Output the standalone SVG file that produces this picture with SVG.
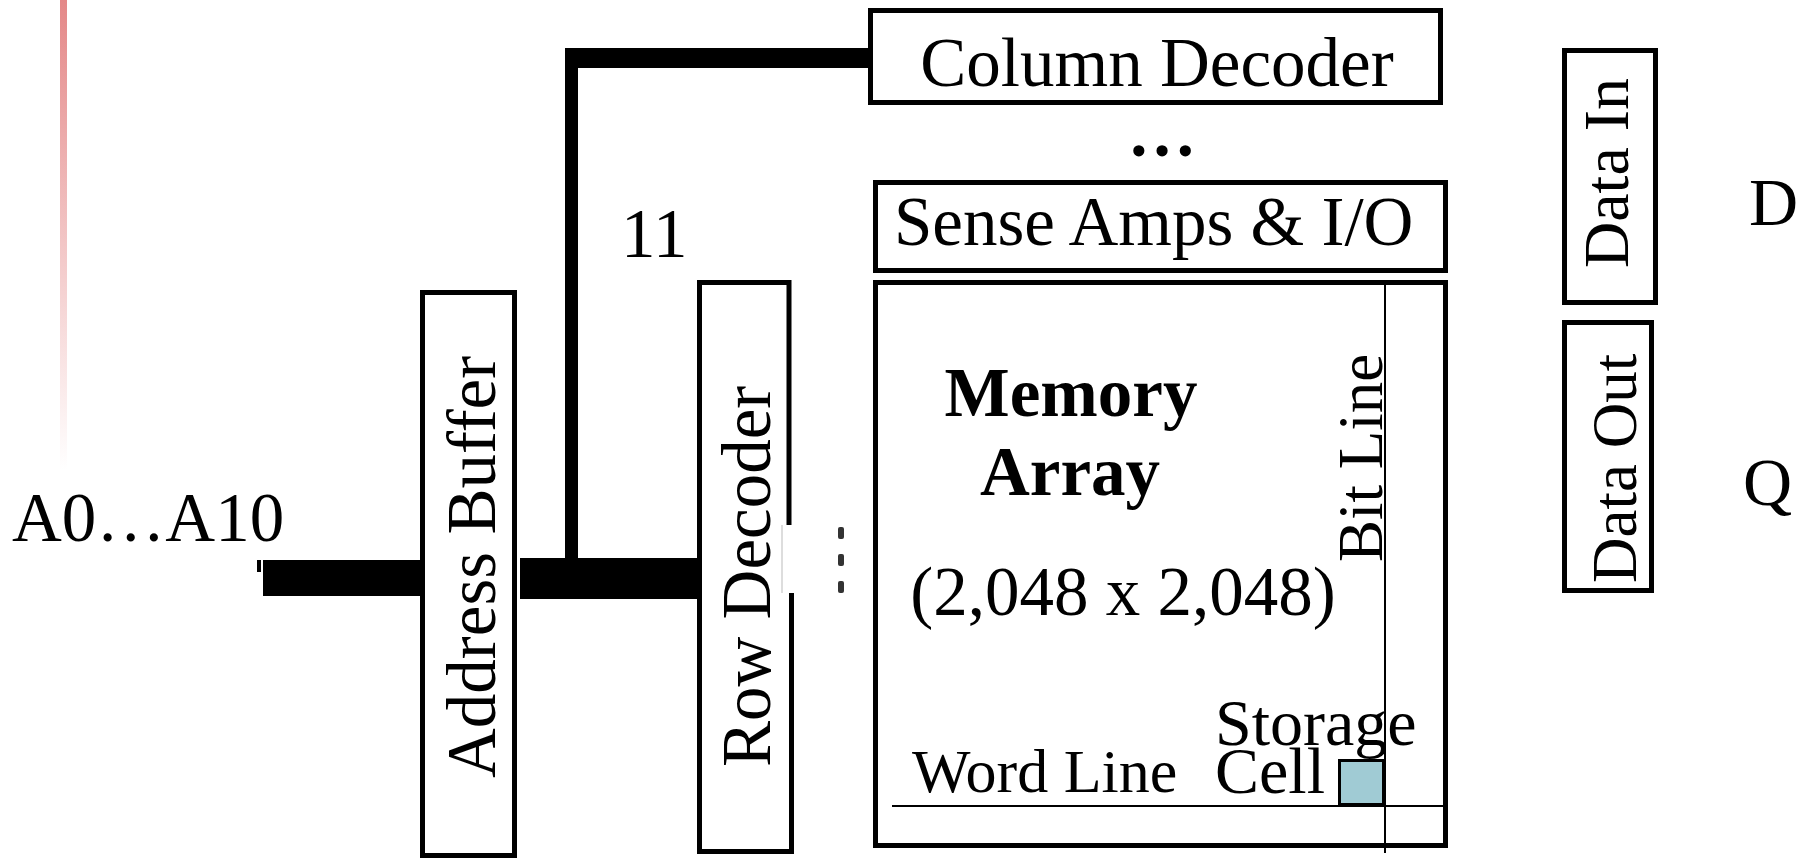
<svg xmlns="http://www.w3.org/2000/svg" width="1804" height="861" viewBox="0 0 1804 861">
<defs>
<linearGradient id="fade" x1="0" y1="0" x2="0" y2="1">
<stop offset="0" stop-color="#e48888"/>
<stop offset="1" stop-color="#e48888" stop-opacity="0"/>
</linearGradient>
<style>
.t{font-family:"Liberation Serif","Times New Roman",serif;font-size:69px;fill:#000}
.b{font-weight:bold}
.box{fill:#fff;stroke:#000;stroke-width:5}
.wire{fill:#000}
</style>
</defs>
<rect width="1804" height="861" fill="#fff"/>
<rect x="60" y="0" width="7" height="470" fill="url(#fade)"/>
<text class="t" x="12" y="541">A0…A10</text>
<text class="t" x="621" y="257">11</text>

<g id="connectors">
<rect class="wire" x="263" y="560" width="160" height="36"/>
<rect class="wire" x="257" y="560" width="4" height="12"/>
<rect class="wire" x="520" y="558" width="179" height="41"/>
<rect class="wire" x="565" y="48" width="13" height="512"/>
<rect class="wire" x="565" y="48" width="307" height="20"/>
</g>

<g id="address-buffer">
<rect class="box" x="422.5" y="292.5" width="92" height="563"/>
<text class="t" transform="translate(495,778) rotate(-90)">Address Buffer</text>
</g>

<g id="row-decoder">
<path d="M789,525 V282.5 H699.5 V851.5 H791.5 V593" fill="none" stroke="#000" stroke-width="5"/>
<line x1="782" y1="525" x2="782" y2="593" stroke="#bbb" stroke-width="1"/>
<text class="t" transform="translate(770,767) rotate(-90)">Row Decoder</text>
<g fill="#333">
<rect x="838" y="527" width="6" height="12" rx="2"/>
<rect x="838" y="554" width="6" height="12" rx="2"/>
<rect x="838" y="581" width="6" height="12" rx="2"/>
</g>
</g>

<g id="column-decoder">
<rect class="box" x="870.5" y="10.5" width="570" height="92"/>
<text class="t" x="1157" y="86" text-anchor="middle">Column Decoder</text>
</g>
<text class="t b" x="1162" y="156" text-anchor="middle">…</text>

<g id="sense-amps">
<rect class="box" x="875.5" y="182.5" width="570" height="88"/>
<text class="t" x="894" y="245">Sense Amps &amp; I/O</text>
</g>

<g id="memory-array">
<rect class="box" x="875.5" y="282.5" width="570" height="563"/>
<line x1="1385" y1="281" x2="1385" y2="853" stroke="#000" stroke-width="2"/>
<line x1="892" y1="806" x2="1445" y2="806" stroke="#000" stroke-width="2"/>
<text class="t b" x="1071" y="416" text-anchor="middle">Memory</text>
<text class="t b" x="1070" y="495" text-anchor="middle">Array</text>
<text class="t" x="1123" y="615" text-anchor="middle">(2,048 x 2,048)</text>
<text class="t" transform="translate(1382,562) rotate(-90)" style="font-size:63px">Bit Line</text>
<text class="t" x="912" y="792" style="font-size:62px">Word Line</text>
<text class="t" x="1215" y="745" style="font-size:66px">Storage</text>
<text class="t" x="1215" y="793" style="font-size:66px">Cell</text>
</g>

<g id="storage-cell">
<rect x="1339.5" y="760.5" width="44" height="44" fill="#a0cbd4" stroke="#000" stroke-width="3"/>
</g>

<g id="data-in">
<rect class="box" x="1564.5" y="50.5" width="91" height="252"/>
<text class="t" transform="translate(1628,268) rotate(-90)" style="font-size:64px">Data In</text>
</g>
<g id="data-out">
<rect class="box" x="1564.5" y="322.5" width="87" height="268"/>
<text class="t" transform="translate(1636,583) rotate(-90)" style="font-size:63px">Data Out</text>
</g>
<text class="t" x="1749" y="225" style="font-size:68px">D</text>
<text class="t" x="1743" y="505" style="font-size:68px">Q</text>
</svg>
